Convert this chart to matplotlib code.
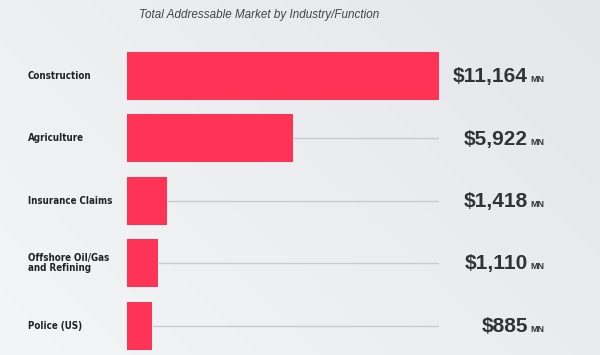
import matplotlib
matplotlib.use("Agg")
import matplotlib.pyplot as plt
import matplotlib.transforms as mtransforms
import numpy as np

categories = ["Construction", "Agriculture", "Insurance Claims",
              "Offshore Oil/Gas\nand Refining", "Police (US)"]
values = [11164, 5922, 1418, 1110, 885]
value_labels = ["$11,164", "$5,922", "$1,418", "$1,110", "$885"]
unit = "MN"
title = "Total Addressable Market by Industry/Function"

W, H = 600, 355
fig = plt.figure(figsize=(W / 100, H / 100), dpi=100)
fig.patch.set_facecolor("#eef0f2")

# subtle background gradient
bg = fig.add_axes([0, 0, 1, 1])
gx = np.linspace(0, 1, 200)
gy = np.linspace(0, 1, 120)
GX, GY = np.meshgrid(gx, gy)
grad = 0.5 * GX + 0.3 * (1 - GY)
bg.imshow(grad, extent=[0, 1, 0, 1], aspect="auto",
          cmap=matplotlib.colors.LinearSegmentedColormap.from_list("bg", ["#f4f5f6", "#e4e6ea"]))
bg.axis("off")

left_px, right_px = 127, 439
ax = fig.add_axes([left_px / W, 0, (right_px - left_px) / W, 1])
ax.patch.set_alpha(0)
vmax = max(values)
ax.set_xlim(0, vmax)
first_c, step = 76, 62.4
ax.set_ylim((H - first_c) / step, -first_c / step)

y = np.arange(len(categories))
for yi, v in zip(y, values):
    ax.plot([v, vmax], [yi, yi], color="#c9cbcf", lw=1, zorder=1, solid_capstyle="butt")
ax.barh(y, values, height=0.77, color="#ff3355", zorder=2)
ax.axis("off")

tr = mtransforms.blended_transform_factory(fig.transFigure, ax.transData)
for yi, c, lab in zip(y, categories, value_labels):
    ax.text(28 / W, yi, c, transform=tr, ha="left", va="center",
            fontsize=7.0, fontweight="bold", fontstretch="condensed", color="#222222",
            family="DejaVu Sans", linespacing=1.0)
    ax.text(528 / W, yi + 0.1, lab, transform=tr, ha="right", va="baseline",
            fontsize=15, fontweight="bold", color="#333333",
            family=["Liberation Sans", "DejaVu Sans"])
    ax.text(530 / W, yi + 0.1, unit, transform=tr, ha="left", va="baseline",
            fontsize=6.5, fontweight="bold", color="#333333",
            family=["Liberation Sans", "DejaVu Sans"])

fig.text(259 / W, 1 - 15 / H, title, ha="center", va="center", fontsize=8.4,
         style="italic", color="#444444", family=["Liberation Sans", "DejaVu Sans"])

fig.savefig("out.png", dpi=100, facecolor=fig.get_facecolor())
